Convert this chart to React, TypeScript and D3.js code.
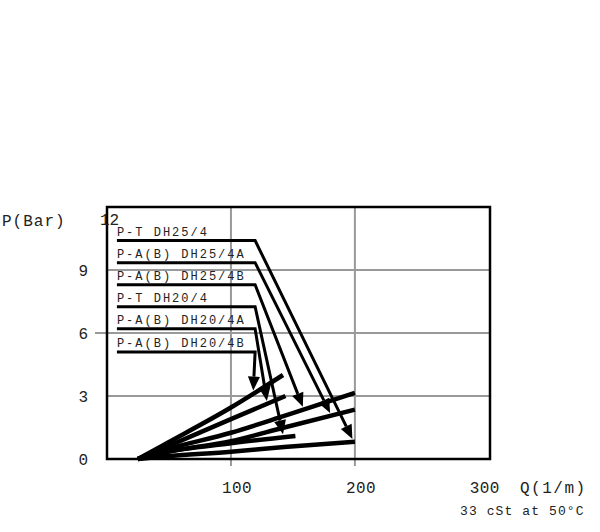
import * as React from 'react';
import * as d3 from 'd3';

const width = 600;
const height = 532;
const margin = {top: 207, right: 110, bottom: 72, left: 107};

// axis ticks
const xTicks = [100, 200, 300];
const yTicks = [0, 3, 6, 9, 12];
const xGrid = [100, 200];
const yGrid = [3, 6, 9];

// curves, listed in the same order as the labels (top to bottom)
const seriesNames = [
    'P-T DH25/4',
    'P-A(B) DH25/4A',
    'P-A(B) DH25/4B',
    'P-T DH20/4',
    'P-A(B) DH20/4A',
    'P-A(B) DH20/4B',
];
const flowValues = [
    [25, 45, 100, 143, 200],
    [25, 45, 100, 143, 200],
    [25, 45, 100, 143, 200],
    [25, 45, 100, 152],
    [25, 45, 100, 144],
    [25, 45, 100, 142],
];
const pressureValues = [
    [0, 0.12, 0.35, 0.57, 0.82],
    [0, 0.3, 0.85, 1.5, 2.35],
    [0, 0.4, 1.25, 2.05, 3.15],
    [0, 0.3, 0.75, 1.1],
    [0, 0.5, 1.9, 3.0],
    [0, 0.65, 2.45, 4.0],
];

// where each label's leader arrow lands on its curve (Q in l/min)
const arrowTargets = [198, 180, 158, 142, 129, 118];
// label rows (in bar), leader start / corner (in l/min)
const labelRows = [10.4, 9.35, 8.3, 7.25, 6.2, 5.1];
const leaderStart = 8;
const leaderCorner = 119.5;

const mono = '"Liberation Mono", "DejaVu Sans Mono", monospace';

export default function App() {
    const ref = React.useRef<SVGSVGElement>(null);

    React.useEffect(() => {
        const svg = d3.select(ref.current);
        svg.selectAll('*').remove();

        const x = d3.scaleLinear().domain([0, 309]).range([margin.left, width - margin.right]);
        const y = d3.scaleLinear().domain([0, 12]).range([height - margin.bottom - 1, margin.top]);
        const x0 = x.range()[0], x1 = x.range()[1];
        const y0 = y.range()[0], y1 = y.range()[1];

        // ****************** grid ***************************
        svg.selectAll('line.vgrid').data(xGrid).enter().append('line')
            .attr('x1', (d) => x(d)).attr('x2', (d) => x(d))
            .attr('y1', y1).attr('y2', y0 + 7)
            .attr('stroke', '#999').attr('stroke-width', 2);

        svg.selectAll('line.hgrid').data(yGrid).enter().append('line')
            .attr('x1', (d) => d === 6 ? x0 - 12 : x0).attr('x2', x1)
            .attr('y1', (d) => y(d)).attr('y2', (d) => y(d))
            .attr('stroke', '#999').attr('stroke-width', 2);

        // ****************** frame ***************************
        svg.append('rect')
            .attr('x', x0).attr('y', y1)
            .attr('width', x1 - x0).attr('height', y0 - y1)
            .attr('fill', 'none').attr('stroke', '#000').attr('stroke-width', 2.5);

        // ****************** tick labels ***************************
        svg.selectAll('text.xt').data(xTicks).enter().append('text')
            .attr('x', (d) => x(d) + 6).attr('y', 493)
            .attr('text-anchor', 'middle')
            .attr('font-family', mono).attr('font-size', 16).attr('letter-spacing', 0.4)
            .attr('fill', '#222')
            .text((d) => d);

        svg.selectAll('text.yt').data(yTicks).enter().append('text')
            .attr('x', (d) => d === 12 ? x0 - 7 : x0 - 19)
            .attr('y', (d) => y(d) + (d === 12 ? 18 : 6))
            .attr('text-anchor', (d) => d === 12 ? 'start' : 'end')
            .attr('font-family', mono).attr('font-size', 16)
            .attr('fill', '#222')
            .text((d) => d);

        svg.append('text')
            .attr('x', 2).attr('y', 226)
            .attr('font-family', mono).attr('font-size', 16).attr('letter-spacing', 1)
            .attr('fill', '#222')
            .text('P(Bar)');

        svg.append('text')
            .attr('x', 520).attr('y', 493)
            .attr('font-family', mono).attr('font-size', 16).attr('letter-spacing', 1.5)
            .attr('fill', '#222')
            .text('Q(1/m)');

        svg.append('text')
            .attr('x', 460).attr('y', 515)
            .attr('font-family', mono).attr('font-size', 13).attr('letter-spacing', 1.1)
            .attr('fill', '#222')
            .text('33 cSt at 50°C');

        // ****************** curves ***************************
        const curves = seriesNames.map((name, i) => ({
            name,
            points: flowValues[i].map((q, j) => [q, pressureValues[i][j]] as [number, number]),
            lookup: d3.scaleLinear().domain(flowValues[i]).range(pressureValues[i]),
        }));

        const line = d3.line<[number, number]>()
            .x((d) => x(d[0]))
            .y((d) => y(d[1]))
            .curve(d3.curveMonotoneX);

        svg.selectAll('path.curve').data(curves).enter().append('path')
            .attr('d', (d) => line(d.points))
            .attr('fill', 'none').attr('stroke', '#000').attr('stroke-width', 4.5);

        // ****************** labels & leaders ***************************
        const headLen = 14;
        const headHalf = 6;

        curves.forEach((c, i) => {
            const ly = y(labelRows[i]);
            const sx = x(leaderStart);
            const cx = x(leaderCorner);
            const tq = arrowTargets[i];
            const tx = x(tq);
            const ty = y(c.lookup(tq)) - 3;

            svg.append('text')
                .attr('x', sx).attr('y', ly - 5)
                .attr('font-family', mono).attr('font-size', 12).attr('letter-spacing', 2)
                .attr('fill', '#222')
                .text(c.name);

            const dx = tx - cx, dy = ty - ly;
            const len = Math.sqrt(dx * dx + dy * dy);
            const ux = dx / len, uy = dy / len;
            const bx = tx - ux * headLen, by = ty - uy * headLen;

            svg.append('path')
                .attr('d', `M ${sx} ${ly} L ${cx} ${ly} L ${bx} ${by}`)
                .attr('fill', 'none').attr('stroke', '#000').attr('stroke-width', 3)
                .attr('stroke-linejoin', 'miter');

            svg.append('path')
                .attr('d', `M ${tx} ${ty}
                    L ${bx - uy * headHalf} ${by + ux * headHalf}
                    L ${bx + uy * headHalf} ${by - ux * headHalf} Z`)
                .attr('fill', '#000');
        });
    }, []);

    return (
        <svg ref={ref} width={width} height={height}
            style={{position: 'absolute', left: 0, top: 0, background: '#fff'}} />
    );
}
